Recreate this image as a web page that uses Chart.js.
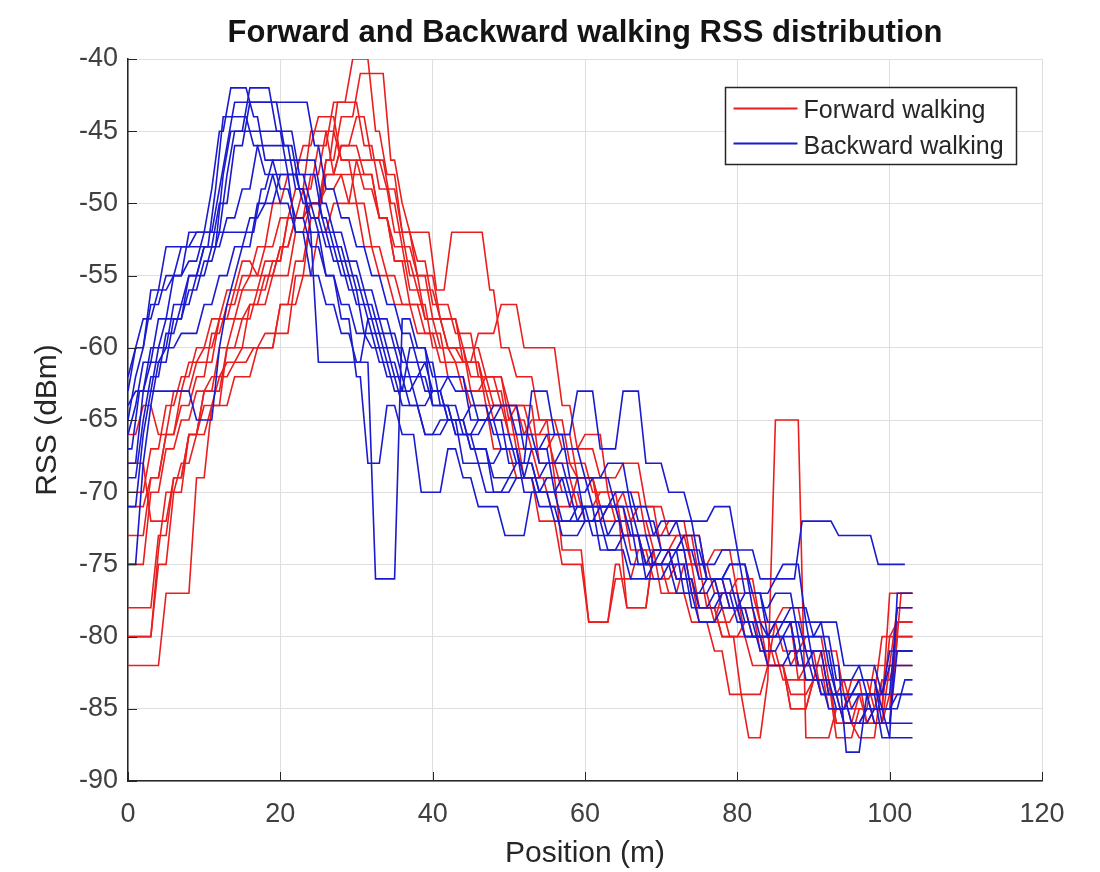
<!DOCTYPE html>
<html><head><meta charset="utf-8">
<script src="https://cdn.jsdelivr.net/npm/chart.js@4.4.1/dist/chart.umd.min.js"></script>
<style>html,body{margin:0;padding:0;background:#fff;}canvas{display:block;}</style>
</head><body>
<canvas id="c" width="1100" height="872"></canvas>
<script>
// ---- Chart text ----
const titleText = 'Forward and Backward walking RSS distribution';
const xTitle = 'Position (m)';
const yTitle = 'RSS (dBm)';
const seriesNames = ['Forward walking', 'Backward walking'];
const xTickValues = [0, 20, 40, 60, 80, 100, 120];
const yTickValues = [-90, -85, -80, -75, -70, -65, -60, -55, -50, -45, -40];

// ---- Forward walking runs: plateau start position (m) and RSS level (dBm) ----
const fwd1Pos = [0,5,9,11,13,15,17,19,21,23,25,27,29.5,32.5,34,36,38,41,44,47,50,53,56,59,62,65,68,71,74,77,80,83,86,89,92,95,98,101];
const fwd1Rss = [-82,-77,-69,-64,-60,-58,-56,-54,-51,-49,-46,-43,-40,-45,-48,-52,-55,-58,-61,-64,-66,-65,-69,-71,-70,-73,-75,-74,-77,-79,-78,-81,-83,-82,-85,-84,-86,-80];
const fwd2Pos = [0,4,6,8,10,13,16,19,22,24,26,28,30.5,34.5,36,37,40.5,42.5,47.5,49,51,54,57,60,63,66,69,72,75,78,81,85,88,91,94,97,100];
const fwd2Rss = [-80,-75,-70,-66,-63,-60,-57,-55,-52,-50,-47,-44,-41,-47,-50,-52,-56,-52,-56,-60,-62,-65,-67,-66,-70,-72,-74,-73,-76,-78,-80,-79,-82,-84,-83,-86,-82];
const fwd3Pos = [0,3,5,7,9,12,15,18,21,24,26,28,31,33,35,38,41,44,47,50,53,56,59,62,65,68,71,74,77,79,81.5,84,85,89,93,95,98,101];
const fwd3Rss = [-73,-69,-66,-63,-61,-58,-56,-54,-51,-48,-45,-47,-49,-51,-54,-56,-58,-60,-62,-64,-66,-68,-69,-71,-73,-75,-77,-79,-81,-84,-87,-83,-65,-87,-85,-83,-85,-79];
const fwd4Pos = [0,3,5,7,9,11,13,15,17,19,21,23,25,28,30,32,34,36,39,42,45,48,51,54,57,60.5,64,67,70,73,76,79,82,85,88,91,94,97,100];
const fwd4Rss = [-71,-69,-66,-64,-62,-59,-57,-55,-53,-50,-48,-46,-44,-47,-50,-53,-55,-57,-59,-62,-64,-67,-69,-72,-75,-79,-76,-74,-77,-75,-78,-80,-82,-79,-83,-81,-84,-86,-84];
const fwd5Pos = [0,4,6,8,10,12,14,16.5,20,22,24,26,28,31,33,35,37,39,41,44,47,50,52,55.5,59,62,65.5,69,72,75,78,81,84,87,90,93,96,99,101.5];
const fwd5Rss = [-78,-73,-69,-66,-64,-62,-61,-60,-57,-54,-51,-48,-46,-48,-51,-53,-56,-58,-60,-61,-63,-66,-69,-71,-69,-72,-78,-74,-76,-79,-77,-80,-82,-85,-83,-86,-87,-83,-77];
const fwd6Pos = [0,3,5,7,9,11,13,15,18,22,24,26,27.5,31,33,35,37,39,42,45,48,51,54,57,60,63,66,69,72,75,78,80.5,84,87,90,93,96,99,101];
const fwd6Rss = [-75,-70,-67,-65,-63,-62,-61,-60,-59,-55,-51,-47,-43,-46,-49,-52,-55,-58,-60,-63,-65,-64,-68,-70,-72,-71,-74,-76,-75,-78,-80,-84,-82,-85,-83,-86,-84,-80,-79];
const fwd7Pos = [0,2,4,6,8,10,12,14,16,18,20,22,24,27,29,31,33,35,38,41,44,47,50,53,56,59,62,65,68,71,74,77,80,83,86,89,92,95,98,101];
const fwd7Rss = [-66,-64,-66,-63,-61,-60,-58,-56,-55,-53,-51,-49,-45,-48,-50,-53,-55,-57,-59,-61,-63,-62,-65,-67,-66,-69,-71,-70,-73,-72,-75,-77,-76,-79,-81,-80,-83,-85,-82,-78];
const fwd8Pos = [0,4,5,7,9,11,14,17,20,23,25,27,30,34.5,36,38,40,42,45,48,51,54,57,60.5,64,65.5,69,72,75,78,81,84,87,90,93,96,99,101];
const fwd8Rss = [-80,-74,-70,-68,-66,-64,-62,-60,-57,-55,-52,-50,-47,-50,-53,-55,-58,-60,-62,-64,-67,-69,-74,-79,-75,-78,-74,-76,-78,-80,-79,-82,-84,-83,-87,-85,-83,-81];
const fwd9Pos = [0,3,6,8,10,12,14,16,18,20,22,24,26,28,30,32,34,36,38,40,43,46,49,52,55,58,61,64,67,70,73,76,79,82,85,88,91,94,97,100];
const fwd9Rss = [-68,-72,-69,-66,-63,-60,-58,-57,-55,-53,-51,-50,-48,-46,-44,-47,-49,-52,-54,-57,-59,-62,-64,-66,-65,-68,-70,-72,-71,-74,-73,-76,-78,-80,-82,-81,-84,-86,-85,-80];
const fwd10Pos = [0,3,5,7,9,11,13,15,17,20,22,24,26,28,33,35,37,40,43,46,49,52,57,59,62,65,68,71,74,77,80,83,86,89,92,95,98,100];
const fwd10Rss = [-70,-67,-64,-62,-60,-58,-56,-54,-55,-53,-51,-50,-49,-48,-51,-54,-57,-60,-61,-59,-57,-60,-64,-67,-69,-68,-71,-73,-75,-74,-77,-79,-78,-81,-84,-86,-85,-77];
const fwdEnd = [103,103,103,103,103,103,103,103,103,103];

// ---- Backward walking runs ----
const bwd1Pos = [0,1,2,3,5,7,9,11,12,13.5,16.5,18,20,22,24,26,28,30,32,34,36,39,42,45,48,51,54,57,60,63,66,69,72,75,78,81,84,87,90,93,96,99,102];
const bwd1Rss = [-65,-62,-60,-57,-55,-53,-52,-49,-45,-42,-44,-47,-49,-51,-53,-55,-57,-59,-60,-62,-64,-66,-65,-67,-69,-68,-70,-72,-71,-73,-75,-74,-76,-78,-77,-79,-80,-82,-81,-84,-83,-85,-83];
const bwd2Pos = [0,1.5,3,5,8,10,12,13,14,16,19.5,21,23,25,27,29,31,33,35,37,40,43,46,49,52,55,58,61,64,67,70,73,76,79,82,85,88,91,94,97,100];
const bwd2Rss = [-67,-63,-60,-58,-56,-54,-52,-48,-45,-42,-45,-48,-50,-52,-54,-56,-59,-61,-63,-60,-64,-66,-68,-67,-70,-69,-71,-73,-72,-75,-74,-77,-76,-78,-80,-79,-82,-84,-86,-85,-87];
const bwd3Pos = [0,2,3,4,6,8,10,12,14,16,24.5,26,28,30,32,34,36,38,40,42,45,48,51,54,57,60,63,66,69,72,75,78,81,84,87,90,93,96,99];
const bwd3Rss = [-75,-68,-64,-61,-58,-55,-53,-50,-46,-43,-46,-49,-51,-53,-55,-57,-59,-61,-63,-65,-64,-66,-68,-70,-69,-72,-71,-73,-75,-74,-76,-78,-77,-80,-79,-82,-84,-83,-86];
const bwd4Pos = [0,2,4,6,8,10,11.5,12.5,16.5,18,20,22,24,26,28,30,32.5,36,38,40,43,46,49,52,55,58,61,64,67,70,73,76,79,82,85,88,91,94,97,100];
const bwd4Rss = [-68,-63,-60,-57,-55,-53,-49,-44,-46,-48,-50,-52,-55,-57,-59,-61,-76,-58,-60,-62,-63,-65,-64,-67,-66,-69,-71,-70,-72,-74,-73,-76,-75,-78,-77,-80,-79,-82,-84,-82];
const bwd5Pos = [0,1,3,5,12.5,13.5,22.5,24,26,28,30,32,34,36,38,40,42,45,48,51,54,57,60,63,66,69,72,75,78,81,84,87,90,93,96,99,101];
const bwd5Rss = [-63,-60,-56,-53,-48,-45,-48,-50,-52,-54,-56,-58,-60,-62,-64,-63,-65,-67,-70,-69,-71,-73,-72,-74,-76,-75,-77,-79,-78,-80,-82,-81,-83,-85,-84,-87,-77];
const bwd6Pos = [0,1,2,4,6,8,17.5,19,25.5,27,29,31,33,35,37,39,41,44,47,50,53,56,59,62,65,68,71,74,77,80,83,86,89,92,94.3,97,100];
const bwd6Rss = [-66,-64,-61,-58,-55,-52,-49,-47,-50,-52,-54,-56,-58,-60,-62,-61,-64,-66,-65,-68,-63,-66,-63,-67,-63,-68,-70,-72,-71,-74,-76,-75,-79,-82,-88,-84,-81];
const bwd7Pos = [0,2,3,5,7,9,11,13,15,17,22.5,24,26,28,30,32,34,36,38,40,43,46,49,52,55,58,61,64,67,70,73,76,79,82,85,88.5,93.3,98.5];
const bwd7Rss = [-69,-65,-62,-59,-57,-55,-53,-51,-49,-46,-49,-51,-53,-55,-57,-59,-61,-63,-62,-64,-66,-65,-67,-69,-68,-70,-69,-71,-73,-72,-74,-76,-75,-77,-76,-72,-73,-75];
const bwd8Pos = [0,1,3,5,7,10,12,14,16,18,20,22,25,31.5,33,35,37,39,41,44,47,50,53,56,59,62,65,68,71,74,77,80,83,86,89,92,95,98,101];
const bwd8Rss = [-64,-63,-61,-60,-59,-57,-55,-53,-51,-50,-48,-52,-61,-58,-60,-62,-64,-66,-65,-68,-70,-69,-67,-70,-72,-71,-73,-75,-74,-77,-76,-78,-80,-79,-81,-84,-86,-85,-84];
const bwd9Pos = [0,1,2,4,6,8,10,12,13,14,20.5,22,24,26,28,30,31.5,34,36,38.5,42,44,46,49.5,53,56,59,62,65,68,71,74,77,80,83,86,89,92,95,98,101];
const bwd9Rss = [-62,-60,-58,-56,-55,-54,-52,-49,-46,-43,-46,-49,-52,-55,-58,-62,-68,-64,-66,-70,-67,-69,-71,-73,-70,-72,-71,-74,-73,-76,-75,-78,-77,-79,-81,-80,-83,-85,-84,-86,-81];
const bwd10Pos = [0,2,3,9,12,13,14,15,17,19,25.5,27,29,31,33,36,39,42,45,48,51,54,57,60,63,66,69,72,75,78,81,84,87,90,93,96,99,101];
const bwd10Rss = [-71,-66,-63,-65,-60,-57,-55,-53,-50,-48,-51,-53,-55,-57,-59,-61,-63,-62,-65,-64,-66,-68,-67,-69,-68,-71,-73,-72,-75,-74,-77,-79,-78,-80,-83,-82,-84,-78];
const bwdEnd = [103,103,103,103,103,103,102,103,103,103];

const fwdPos = [fwd1Pos,fwd2Pos,fwd3Pos,fwd4Pos,fwd5Pos,fwd6Pos,fwd7Pos,fwd8Pos,fwd9Pos,fwd10Pos];
const fwdRss = [fwd1Rss,fwd2Rss,fwd3Rss,fwd4Rss,fwd5Rss,fwd6Rss,fwd7Rss,fwd8Rss,fwd9Rss,fwd10Rss];
const bwdPos = [bwd1Pos,bwd2Pos,bwd3Pos,bwd4Pos,bwd5Pos,bwd6Pos,bwd7Pos,bwd8Pos,bwd9Pos,bwd10Pos];
const bwdRss = [bwd1Rss,bwd2Rss,bwd3Rss,bwd4Rss,bwd5Rss,bwd6Rss,bwd7Rss,bwd8Rss,bwd9Rss,bwd10Rss];

// ---- styles ----
const RED = 'rgb(234,30,30)';
const BLUE = 'rgb(26,26,206)';
const FONT = '"Liberation Sans", Arial, Helvetica, sans-serif';

function stepPoints(pos, rss, end) {
  const pts = [];
  for (let i = 0; i < pos.length; i++) {
    const a = pos[i];
    const b = i + 1 < pos.length ? pos[i + 1] - 1 : end;
    pts.push({x: a, y: rss[i]});
    if (b > a) pts.push({x: b, y: rss[i]});
  }
  return pts;
}

const datasets = [];
bwdPos.forEach((p, i) => datasets.push({
  label: seriesNames[1], data: stepPoints(p, bwdRss[i], bwdEnd[i]),
  borderColor: BLUE, borderWidth: 1.6, pointRadius: 0, fill: false, tension: 0, order: 0
}));
fwdPos.forEach((p, i) => datasets.push({
  label: seriesNames[0], data: stepPoints(p, fwdRss[i], fwdEnd[i]),
  borderColor: RED, borderWidth: 1.6, pointRadius: 0, fill: false, tension: 0, order: 1
}));

const decor = {
  id: 'decor',
  afterDraw(chart) {
    const {ctx, chartArea: a, scales: {x, y}} = chart;
    ctx.save();
    // inward tick marks
    ctx.strokeStyle = '#262626'; ctx.lineWidth = 1;
    xTickValues.forEach(v => {
      const p = Math.round(x.getPixelForValue(v)) + 0.5;
      ctx.beginPath(); ctx.moveTo(p, a.bottom); ctx.lineTo(p, a.bottom - 9); ctx.stroke();
    });
    yTickValues.forEach(v => {
      const p = Math.round(y.getPixelForValue(v)) + 0.5;
      ctx.beginPath(); ctx.moveTo(a.left, p); ctx.lineTo(a.left + 9, p); ctx.stroke();
    });
    // title
    ctx.fillStyle = '#141414';
    ctx.font = 'bold 31px ' + FONT;
    ctx.textAlign = 'center'; ctx.textBaseline = 'alphabetic';
    ctx.fillText(titleText, (a.left + a.right) / 2, 42);
    // legend
    const w = 291, h = 77;
    const lx = Math.round(a.right - 26 - w) + 0.5, ly = Math.round(a.top + 28) + 0.5;
    ctx.fillStyle = '#fff'; ctx.fillRect(lx, ly, w, h);
    ctx.strokeStyle = '#262626'; ctx.lineWidth = 1.5; ctx.strokeRect(lx, ly, w, h);
    const rows = [[seriesNames[0], RED, 21, 30], [seriesNames[1], BLUE, 56, 66]];
    rows.forEach(([txt, col, ym, yb]) => {
      ctx.strokeStyle = col; ctx.lineWidth = 2;
      ctx.beginPath(); ctx.moveTo(lx + 8, ly + ym); ctx.lineTo(lx + 72, ly + ym); ctx.stroke();
      ctx.fillStyle = '#262626'; ctx.font = '25px ' + FONT;
      ctx.textAlign = 'left'; ctx.textBaseline = 'alphabetic';
      ctx.fillText(txt, lx + 78, ly + yb);
    });
    ctx.restore();
  }
};

new Chart(document.getElementById('c'), {
  type: 'line',
  data: {datasets},
  plugins: [decor],
  options: {
    responsive: false, animation: false, devicePixelRatio: 1,
    layout: {padding: {left: 0, right: 58, top: 59, bottom: 0}},
    plugins: {legend: {display: false}, title: {display: false}, tooltip: {enabled: false}},
    scales: {
      x: {
        type: 'linear', min: 0, max: 120,
        afterBuildTicks: s => { s.ticks = xTickValues.map(v => ({value: v})); },
        afterFit: s => { s.height = 91; },
        grid: {color: '#dedede', lineWidth: 1, drawTicks: false},
        border: {display: true, color: '#262626', width: 1.5},
        ticks: {font: {size: 27, family: FONT}, color: '#404040', padding: 17, maxRotation: 0},
        title: {display: true, text: xTitle, font: {size: 30, family: FONT}, color: '#262626', padding: {top: 0, bottom: 0}}
      },
      y: {
        type: 'linear', min: -90, max: -40,
        afterBuildTicks: s => { s.ticks = yTickValues.map(v => ({value: v})); },
        afterFit: s => { s.width = 128; },
        grid: {color: '#dedede', lineWidth: 1, drawTicks: false},
        border: {display: true, color: '#262626', width: 1.5},
        ticks: {font: {size: 27, family: FONT}, color: '#404040', padding: 10},
        title: {display: true, text: yTitle, font: {size: 30, family: FONT}, color: '#262626', padding: {top: 30, bottom: 0}}
      }
    }
  }
});
</script>
</body></html>
